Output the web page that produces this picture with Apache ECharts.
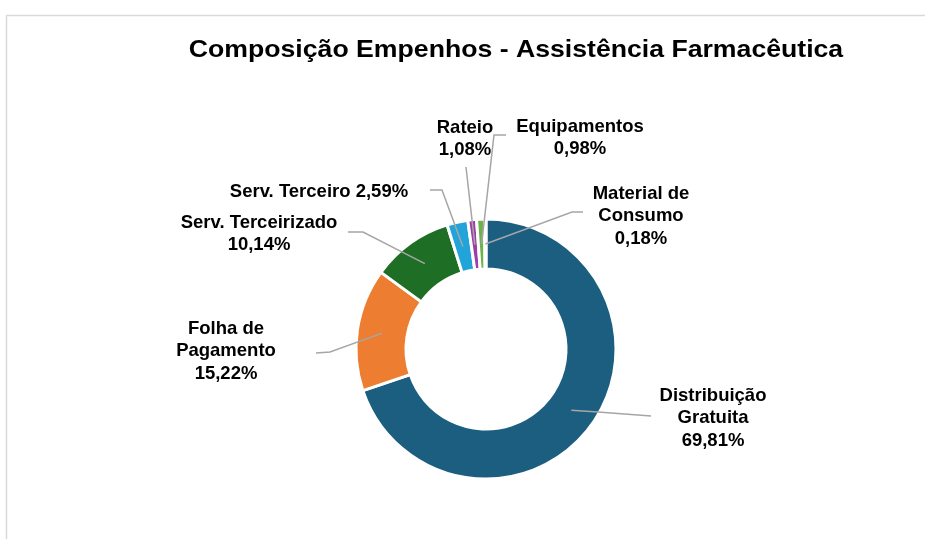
<!DOCTYPE html>
<html><head><meta charset="utf-8">
<script src="https://cdn.jsdelivr.net/npm/echarts@6/dist/echarts.min.js"></script>
<style>html,body{margin:0;padding:0;background:#fff}#c{width:925px;height:539px}</style>
</head><body><div id="c"></div>
<script>
// ---- data ----
const title = 'Composição Empenhos - Assistência Farmacêutica';
const categories = ['Distribuição Gratuita', 'Folha de Pagamento', 'Serv. Terceirizado', 'Serv. Terceiro', 'Rateio', 'Equipamentos', 'Material de Consumo'];
const values = [69.81, 15.22, 10.14, 2.59, 1.08, 0.98, 0.18];
const labelNames = ['Distribuição\nGratuita', 'Folha de\nPagamento', 'Serv. Terceirizado', 'Serv. Terceiro', 'Rateio', 'Equipamentos', 'Material de\nConsumo'];
const valueSep = ['\n', '\n', '\n', ' ', '\n', '\n', '\n'];

// ---- style / layout ----
const colors = ['#1B5E80', '#ED7D31', '#1E6E25', '#22A4DA', '#9B3EA6', '#6CB44A', '#8C8C8C'];
const CENTER = [486, 349];
const R_IN = 80, R_OUT = 130;
const labelPos = [[713, 418], [226, 351], [259, 234], [319, 192], [465, 139], [580, 138], [641, 216]];
const lineEnd = [[651, 416], [316, 353], [348, 232], [430, 190], [466, 167], [506, 135], [583, 212]];
const elbow = [[598, 412], [330, 352], [363, 232], [442, 190], null, [494, 135], [572, 212]];
const FONT = 'Liberation Sans, Arial, sans-serif';

const total = values.reduce((a, b) => a + b, 0);
function midStart(i, pts) {
  const rm = (R_IN + R_OUT) / 2;
  let dx, dy;
  if (pts && pts[0]) {
    dx = pts[0][0] - CENTER[0]; dy = pts[0][1] - CENTER[1];
  } else {
    let cum = 0; for (let k = 0; k < i; k++) cum += values[k];
    const a = 2 * Math.PI * (cum + values[i] / 2) / total;
    dx = Math.sin(a); dy = -Math.cos(a);
  }
  const d = Math.hypot(dx, dy) || 1;
  return [CENTER[0] + dx / d * rm, CENTER[1] + dy / d * rm];
}

const pieBase = {
  type: 'pie',
  center: CENTER,
  radius: [R_IN, R_OUT],
  startAngle: 90,
  clockwise: true,
  avoidLabelOverlap: false,
  silent: true,
  emphasis: { disabled: true }
};

const chart = echarts.init(document.getElementById('c'), null, { renderer: 'canvas' });
chart.setOption({
  backgroundColor: '#fff',
  animation: false,
  graphic: [
    { type: 'line', shape: { x1: 6, y1: 15.5, x2: 925, y2: 15.5 }, style: { stroke: '#D9D9D9', lineWidth: 1.5 } },
    { type: 'line', shape: { x1: 6.5, y1: 15, x2: 6.5, y2: 539 }, style: { stroke: '#D9D9D9', lineWidth: 1.5 } },
    {
      type: 'text', x: 516, y: 50, scaleX: 1.11,
      style: { text: title, fontFamily: FONT, fontSize: 24, fontWeight: 'bold', fill: '#000', align: 'center', verticalAlign: 'middle' }
    }
  ],
  series: [
    Object.assign({}, pieBase, {
      z: 2,
      data: categories.map((c, i) => ({ name: c, value: values[i], itemStyle: { color: colors[i] } })),
      itemStyle: { borderColor: '#fff', borderWidth: 3 },
      label: { show: false },
      labelLine: { show: false }
    }),
    Object.assign({}, pieBase, {
      z: 4,
      data: categories.map((c, i) => ({ name: c, value: values[i] })),
      itemStyle: { color: 'rgba(0,0,0,0)', borderWidth: 0 },
      label: {
        show: true, position: 'outside',
        formatter: p => labelNames[p.dataIndex] + valueSep[p.dataIndex] + values[p.dataIndex].toFixed(2).replace('.', ',') + '%',
        fontFamily: FONT, fontSize: 18.5, fontWeight: 'bold', color: '#000',
        lineHeight: 22.5, align: 'center'
      },
      labelLine: { show: true, length: 10, length2: 10, smooth: false, lineStyle: { color: '#A6A6A6', width: 1.5 } },
      labelLayout: function (p) {
        const i = p.dataIndex;
        const start = midStart(i, p.labelLinePoints);
        const mid = elbow[i] || [(start[0] + lineEnd[i][0]) / 2, (start[1] + lineEnd[i][1]) / 2];
        return {
          x: labelPos[i][0], y: labelPos[i][1], align: 'center', verticalAlign: 'middle',
          labelLinePoints: [start, mid, lineEnd[i]]
        };
      }
    })
  ]
});
</script></body></html>
